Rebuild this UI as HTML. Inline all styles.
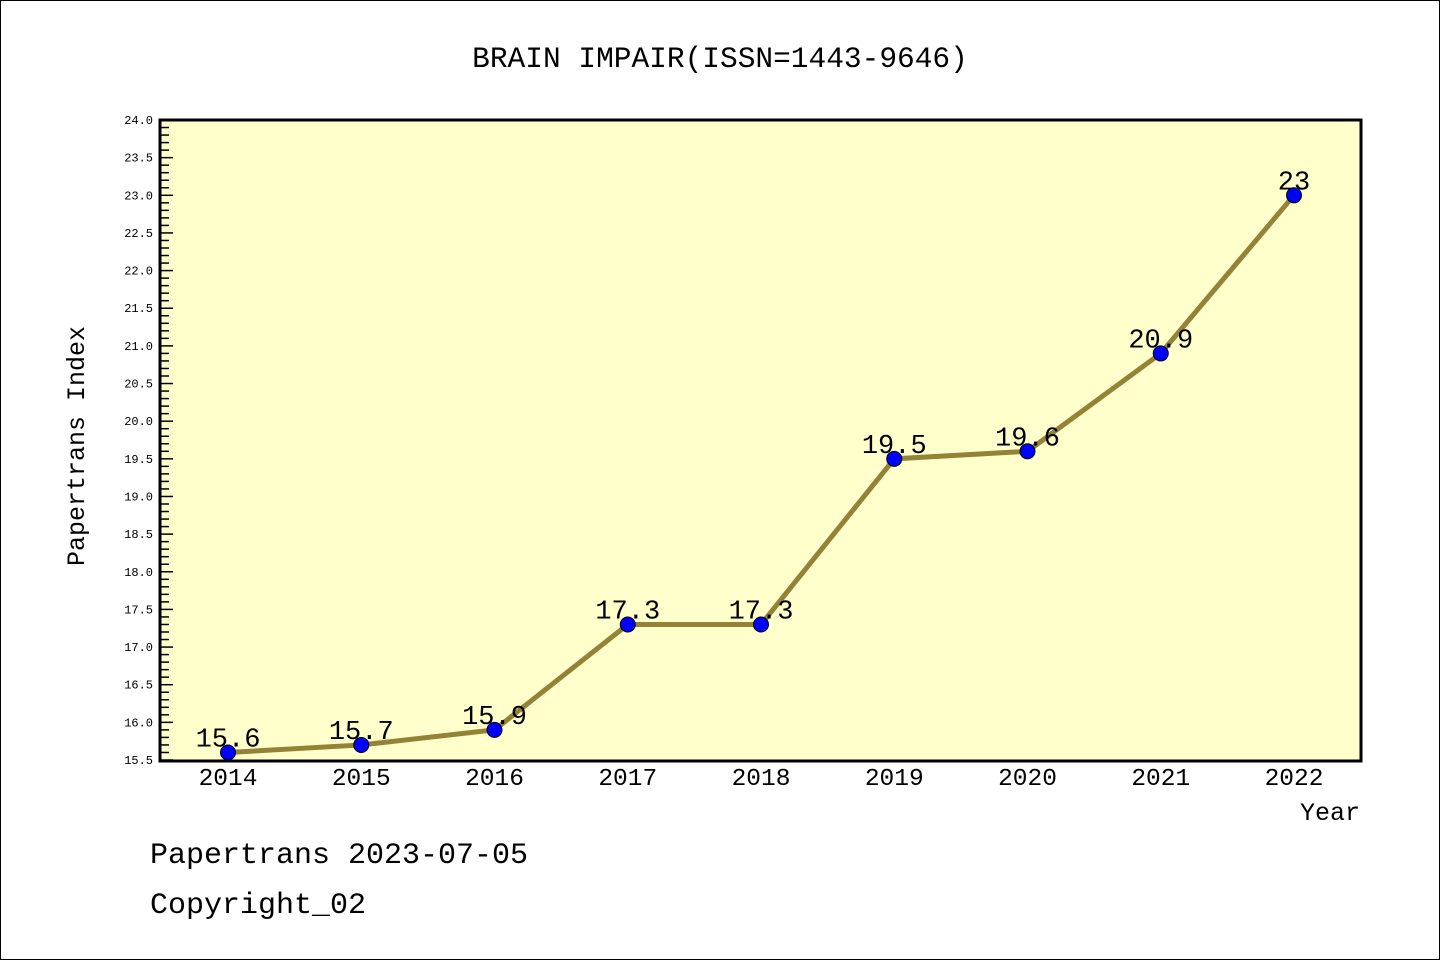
<!DOCTYPE html>
<html><head><meta charset="utf-8"><style>
body{margin:0;background:#fff}
svg text{font-family:"Liberation Mono","Noto Sans CJK SC",monospace}
</style></head><body>
<svg id="c" width="1440" height="960" xmlns="http://www.w3.org/2000/svg">
<rect x="0.5" y="0.5" width="1439" height="959" fill="#fff" stroke="#000"/>
<text x="720" y="67" font-size="29.5" text-anchor="middle">BRAIN IMPAIR(ISSN=1443-9646)</text>
<rect x="160" y="120" width="1201" height="641" fill="#ffffcc"/>
<g id="yt"></g>
<g id="xt"></g>
<g id="ser"></g>
<rect x="160" y="120" width="1201" height="641" fill="none" stroke="#000" stroke-width="3"/>
<text transform="translate(84,446) rotate(-90)" font-size="25" text-anchor="middle">Papertrans Index</text>
<text x="1360" y="820" font-size="25" text-anchor="end">Year</text>
<text x="150" y="863" font-size="30">Papertrans 2023-07-05</text>
<text x="150" y="913" font-size="30">Copyright_02</text>
</svg>
<script>
const years=["2014","2015","2016","2017","2018","2019","2020","2021","2022"];
const values=[15.6,15.7,15.9,17.3,17.3,19.5,19.6,20.9,23];
const yMin=15.5,yMax=24.0;
const NS="http://www.w3.org/2000/svg";
function X(i){return 228+i*(1294-228)/(years.length-1);}
function Y(v){return 760-(v-yMin)*(760-120)/(yMax-yMin);}
function mk(t,a,p){const e=document.createElementNS(NS,t);for(const k in a)e.setAttribute(k,a[k]);p.appendChild(e);return e;}
const yt=document.getElementById('yt');
for(let k=0;k<=85;k++){
 const v=yMin+k*0.1,y=Y(v),maj=k%5===0;
 const l=mk('line',{x1:160,x2:maj?173:169,y1:y,y2:y,stroke:'#000','stroke-width':1.5},yt);
 
 
 if(maj){const t=mk('text',{x:153,y:y+4,'font-size':12,'text-anchor':'end'},yt);t.textContent=v.toFixed(1);
 
 }
}
const xt=document.getElementById('xt');
years.forEach((yr,i)=>{const t=mk('text',{x:X(i),y:785,'font-size':24.5,'text-anchor':'middle'},xt);t.textContent=yr;
 
 });
const ser=document.getElementById('ser');
const pl=mk('polyline',{points:values.map((v,i)=>X(i)+','+Y(v)).join(' '),fill:'none',stroke:'#948236','stroke-width':5},ser);


values.forEach((v,i)=>{
 const t=mk('text',{x:X(i),y:Y(v)-6,'font-size':27,'text-anchor':'middle'},ser);t.textContent=String(v);
 
 
});
values.forEach((v,i)=>{
 const c=mk('circle',{cx:X(i),cy:Y(v),r:7.5,fill:'#0000ff',stroke:'#000','stroke-width':1},ser);
 
 
});
</script>
</body></html>
